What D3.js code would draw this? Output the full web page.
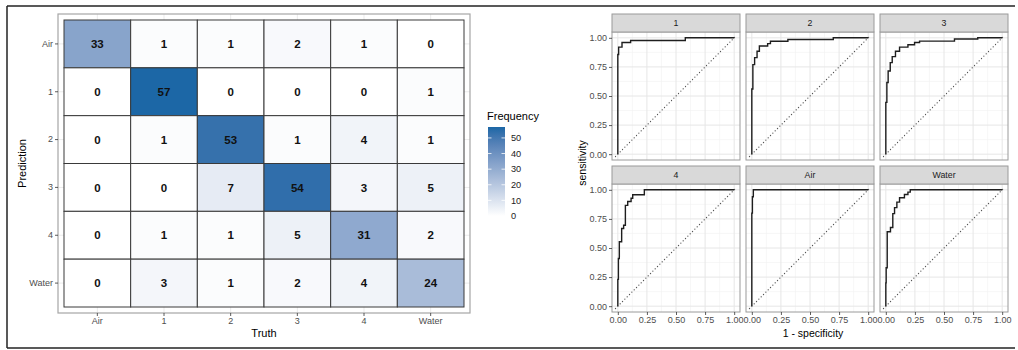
<!DOCTYPE html>
<html>
<head>
<meta charset="utf-8">
<script src="https://cdn.jsdelivr.net/npm/d3@7"></script>
<style>
  body { margin: 0; background: #fff; }
  svg { font-family: "Liberation Sans", Arial, sans-serif; display: block; }
</style>
</head>
<body>
<script>
// confusion matrix: rows = prediction, columns = truth
const truthLabels = ['Air', '1', '2', '3', '4', 'Water'];
const predLabels = ['Air', '1', '2', '3', '4', 'Water'];
const counts = [
  [33, 1, 1, 2, 1, 0],
  [0, 57, 0, 0, 0, 1],
  [0, 1, 53, 1, 4, 1],
  [0, 0, 7, 54, 3, 5],
  [0, 1, 1, 5, 31, 2],
  [0, 3, 1, 2, 4, 24]
];
const legendTicks = [0, 10, 20, 30, 40, 50];

// ROC curves, [1 - specificity, sensitivity] at each step
const rocClasses = ['1', '2', '3', '4', 'Air', 'Water'];
const roc1 = [[0, 0], [0, 0.857], [0.007, 0.92], [0.036, 0.96], [0.11, 0.977], [0.58, 1], [1, 1]];
const roc2 = [[0, 0], [0, 0.56], [0.009, 0.77], [0.024, 0.83], [0.045, 0.885], [0.065, 0.93],
  [0.136, 0.95], [0.16, 0.97], [0.31, 0.985], [0.70, 1], [1, 1]];
const roc3 = [[0, 0], [0, 0.445], [0.009, 0.616], [0.02, 0.715], [0.038, 0.787], [0.055, 0.838],
  [0.083, 0.885], [0.118, 0.92], [0.19, 0.941], [0.247, 0.96], [0.29, 0.972], [0.59, 0.99], [0.79, 1], [1, 1]];
const roc4 = [[0, 0], [0, 0.23], [0.005, 0.41], [0.013, 0.554], [0.033, 0.668], [0.05, 0.696],
  [0.065, 0.866], [0.085, 0.9], [0.114, 0.928], [0.128, 0.957], [0.228, 1], [1, 1]];
const rocAir = [[0, 0], [0, 0.8], [0.005, 0.94], [0.013, 1], [1, 1]];
const rocWater = [[0, 0], [0, 0.2], [0.003, 0.33], [0.012, 0.64], [0.04, 0.676], [0.06, 0.795],
  [0.075, 0.847], [0.095, 0.894], [0.118, 0.932], [0.16, 0.96], [0.19, 0.98], [0.21, 1], [1, 1]];
const rocCurves = [roc1, roc2, roc3, roc4, rocAir, rocWater];
const rocTicks = [0, 0.25, 0.5, 0.75, 1];
const rocMinor = [0.125, 0.375, 0.625, 0.875];

const width = 1018, height = 350;
const svg = d3.select('body').append('svg')
  .attr('width', width)
  .attr('height', height);

// outer frame of the figure
const frame = svg.append('g').attr('stroke', '#222').attr('stroke-width', 1.5).attr('fill', 'none');
frame.append('line').attr('x1', 7).attr('x2', 1015).attr('y1', 6).attr('y2', 6);
frame.append('line').attr('x1', 7).attr('x2', 7).attr('y1', 6).attr('y2', 348);
frame.append('line').attr('x1', 7).attr('x2', 1015).attr('y1', 348).attr('y2', 348);

function styleAxis(g) {
  g.select('.domain').remove();
  g.selectAll('.tick line').attr('stroke', '#333').attr('stroke-width', 0.8);
  g.selectAll('.tick text').attr('fill', '#4d4d4d').style('font-size', '9px');
}

// ---------- confusion matrix heatmap ----------
function drawHeatmap() {
  const panel = { left: 58, right: 470, top: 14, bottom: 313 };
  const pad = 6;

  const x = d3.scaleBand().domain(truthLabels).range([panel.left + pad, panel.right - pad]);
  const y = d3.scaleBand().domain(predLabels).range([panel.top + pad, panel.bottom - pad]);
  const maxVal = d3.max(counts.flat());
  const color = d3.scaleLinear().domain([0, maxVal]).range(['#ffffff', '#1c67a6'])
    .interpolate(d3.interpolateLab);

  const g = svg.append('g');

  g.append('rect')
    .attr('x', panel.left).attr('y', panel.top)
    .attr('width', panel.right - panel.left).attr('height', panel.bottom - panel.top)
    .attr('fill', '#fff');

  // grid lines at category centres
  g.selectAll('.vgrid').data(truthLabels).enter().append('line')
    .attr('x1', d => x(d) + x.bandwidth() / 2).attr('x2', d => x(d) + x.bandwidth() / 2)
    .attr('y1', panel.top).attr('y2', panel.bottom)
    .attr('stroke', '#ebebeb');
  g.selectAll('.hgrid').data(predLabels).enter().append('line')
    .attr('y1', d => y(d) + y.bandwidth() / 2).attr('y2', d => y(d) + y.bandwidth() / 2)
    .attr('x1', panel.left).attr('x2', panel.right)
    .attr('stroke', '#ebebeb');

  const cells = [];
  counts.forEach((row, i) => row.forEach((v, j) => cells.push({ pred: predLabels[i], truth: truthLabels[j], v: v })));

  g.selectAll('.tile').data(cells).enter().append('rect')
    .attr('class', 'tile')
    .attr('x', d => x(d.truth)).attr('y', d => y(d.pred))
    .attr('width', x.bandwidth()).attr('height', y.bandwidth())
    .attr('fill', d => color(d.v))
    .attr('stroke', '#3a3a3a').attr('stroke-width', 1);

  g.selectAll('.lbl').data(cells).enter().append('text')
    .attr('x', d => x(d.truth) + x.bandwidth() / 2)
    .attr('y', d => y(d.pred) + y.bandwidth() / 2)
    .attr('dy', '0.36em')
    .attr('text-anchor', 'middle')
    .style('font-size', '11.5px').style('font-weight', 'bold')
    .attr('fill', '#111')
    .text(d => d.v);

  g.append('rect')
    .attr('x', panel.left).attr('y', panel.top)
    .attr('width', panel.right - panel.left).attr('height', panel.bottom - panel.top)
    .attr('fill', 'none').attr('stroke', '#a6a6a6').attr('stroke-width', 1.2);

  g.append('g')
    .attr('transform', `translate(${panel.left},0)`)
    .call(d3.axisLeft(y).tickSize(3).tickPadding(2))
    .call(styleAxis);
  g.append('g')
    .attr('transform', `translate(0,${panel.bottom})`)
    .call(d3.axisBottom(x).tickSize(3).tickPadding(2))
    .call(styleAxis);

  g.append('text')
    .attr('transform', `translate(26,${(panel.top + panel.bottom) / 2}) rotate(-90)`)
    .attr('text-anchor', 'middle')
    .style('font-size', '11px')
    .text('Prediction');
  g.append('text')
    .attr('x', (panel.left + panel.right) / 2).attr('y', 337)
    .attr('text-anchor', 'middle')
    .style('font-size', '11px')
    .text('Truth');

  // colour bar legend
  const bar = { x: 488, w: 17 };
  const ly = d3.scaleLinear().domain([0, maxVal]).range([216, 127]);
  const defs = svg.append('defs');
  const grad = defs.append('linearGradient').attr('id', 'freqGrad')
    .attr('x1', 0).attr('x2', 0).attr('y1', 1).attr('y2', 0);
  d3.range(0, 1.0001, 0.1).forEach(t => {
    grad.append('stop').attr('offset', t).attr('stop-color', color(t * maxVal));
  });
  const lg = svg.append('g');
  lg.append('text')
    .attr('x', 487).attr('y', 120)
    .style('font-size', '11px')
    .text('Frequency');
  lg.append('rect')
    .attr('x', bar.x).attr('y', ly(maxVal))
    .attr('width', bar.w).attr('height', ly(0) - ly(maxVal))
    .attr('fill', 'url(#freqGrad)');
  lg.selectAll('.lt').data(legendTicks).enter().append('path')
    .attr('d', d => `M${bar.x},${ly(d)}h3.5M${bar.x + bar.w - 3.5},${ly(d)}h3.5`)
    .attr('stroke', '#fff').attr('stroke-width', 0.8);
  lg.selectAll('.ll').data(legendTicks).enter().append('text')
    .attr('x', bar.x + bar.w + 6).attr('y', d => ly(d))
    .attr('dy', '0.35em')
    .style('font-size', '9.2px').attr('fill', '#222')
    .text(d => d);
}

// ---------- ROC facets ----------
function drawRoc() {
  const colLeft = [612, 746, 880];
  const rowTop = [14, 166];
  const pw = 128, stripH = 18, ph = 128;

  rocClasses.forEach((cls, i) => {
    const col = i % 3, row = Math.floor(i / 3);
    const left = colLeft[col], right = left + pw;
    const sTop = rowTop[row], top = sTop + stripH, bottom = top + ph;

    const x = d3.scaleLinear().domain([-0.05, 1.05]).range([left, right]);
    const y = d3.scaleLinear().domain([-0.05, 1.05]).range([bottom, top]);

    const g = svg.append('g');
    g.append('rect').attr('x', left).attr('y', top).attr('width', pw).attr('height', ph).attr('fill', '#fff');

    g.selectAll('.mgx').data(rocMinor).enter().append('line')
      .attr('x1', d => x(d)).attr('x2', d => x(d)).attr('y1', top).attr('y2', bottom)
      .attr('stroke', '#f2f2f2').attr('stroke-width', 0.6);
    g.selectAll('.mgy').data(rocMinor).enter().append('line')
      .attr('y1', d => y(d)).attr('y2', d => y(d)).attr('x1', left).attr('x2', right)
      .attr('stroke', '#f2f2f2').attr('stroke-width', 0.6);
    g.selectAll('.gx').data(rocTicks).enter().append('line')
      .attr('x1', d => x(d)).attr('x2', d => x(d)).attr('y1', top).attr('y2', bottom)
      .attr('stroke', '#e6e6e6').attr('stroke-width', 1);
    g.selectAll('.gy').data(rocTicks).enter().append('line')
      .attr('y1', d => y(d)).attr('y2', d => y(d)).attr('x1', left).attr('x2', right)
      .attr('stroke', '#e6e6e6').attr('stroke-width', 1);

    // chance diagonal
    g.append('line')
      .attr('x1', x(-0.02)).attr('y1', y(-0.02)).attr('x2', x(1.02)).attr('y2', y(1.02))
      .attr('stroke', '#555').attr('stroke-width', 1.2)
      .attr('stroke-dasharray', '0.1,3.2').attr('stroke-linecap', 'round');

    const line = d3.line().x(d => x(d[0])).y(d => y(d[1])).curve(d3.curveStepAfter);
    g.append('path')
      .attr('d', line(rocCurves[i]))
      .attr('fill', 'none').attr('stroke', '#1e1e1e').attr('stroke-width', 1.4);

    g.append('rect').attr('x', left).attr('y', top).attr('width', pw).attr('height', ph)
      .attr('fill', 'none').attr('stroke', '#9a9a9a').attr('stroke-width', 1);

    // strip
    g.append('rect').attr('x', left).attr('y', sTop).attr('width', pw).attr('height', stripH)
      .attr('fill', '#d9d9d9').attr('stroke', '#9a9a9a').attr('stroke-width', 1);
    g.append('text')
      .attr('x', (left + right) / 2).attr('y', sTop + stripH / 2).attr('dy', '0.35em')
      .attr('text-anchor', 'middle')
      .style('font-size', '8.8px').attr('fill', '#1a1a1a')
      .text(cls);

    if (col === 0) {
      g.append('g').attr('transform', `translate(${left},0)`)
        .call(d3.axisLeft(y).tickValues(rocTicks).tickFormat(d3.format('.2f')).tickSize(3).tickPadding(2))
        .call(styleAxis);
    }
    if (row === 1) {
      g.append('g').attr('transform', `translate(0,${bottom})`)
        .call(d3.axisBottom(x).tickValues(rocTicks).tickFormat(d3.format('.2f')).tickSize(3).tickPadding(2))
        .call(styleAxis);
    }
  });

  svg.append('text')
    .attr('transform', `translate(586,163) rotate(-90)`)
    .attr('text-anchor', 'middle')
    .style('font-size', '10.5px')
    .text('sensitivity');
  svg.append('text')
    .attr('x', 813).attr('y', 337)
    .attr('text-anchor', 'middle')
    .style('font-size', '10.5px')
    .text('1 - specificity');
}

drawHeatmap();
drawRoc();
</script>
</body>
</html>
